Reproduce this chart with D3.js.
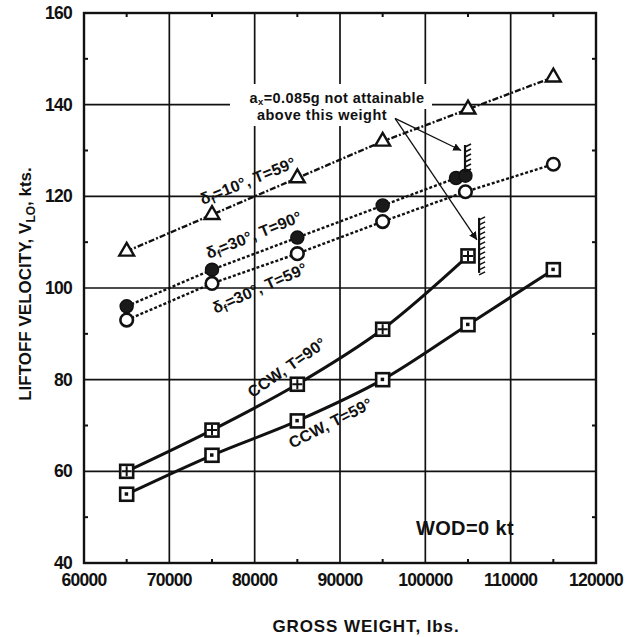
<!DOCTYPE html>
<html><head><meta charset="utf-8">
<script src="https://cdn.jsdelivr.net/npm/d3@7/dist/d3.min.js"></script>
<style>
body{margin:0;background:#fff;}
text{font-family:"Liberation Sans",Arial,Helvetica,sans-serif;font-weight:bold;fill:#111;}
</style></head>
<body><svg id="c" width="637" height="637"></svg>
<script>
// ---- data ----
const weights = [65000, 75000, 85000, 95000, 105000, 115000];
const flap10_T59 = [108, 116, 124, 132, 139, 146];
const flap30_T90_w = [65000, 75000, 85000, 95000, 103600, 104700];
const flap30_T90 = [96, 104, 111, 118, 124, 124.5];
const flap30_T59_w = [65000, 75000, 85000, 95000, 104700, 115000];
const flap30_T59 = [93, 101, 107.5, 114.5, 121, 127];
const ccw_T90_w = [65000, 75000, 85000, 95000, 105000];
const ccw_T90 = [60, 69, 79, 91, 107];
const ccw_T59 = [55, 63.5, 71, 80, 92, 104];
const xTicks = [60000, 70000, 80000, 90000, 100000, 110000, 120000];
const yTicks = [40, 60, 80, 100, 120, 140, 160];
// limit marks (weight, top value, bottom value)
const limit1 = [104650, 131.2, 125.3];
const limit2 = [106300, 115.3, 103.3];
const arrowFrom = [96450, 137];
const arrowTo1 = [104200, 130];
const arrowTo2 = [106050, 110.5];

const svg = d3.select("#c");
const x = d3.scaleLinear().domain([60000, 120000]).range([84, 596]);
const y = d3.scaleLinear().domain([40, 160]).range([563, 13]);

// grid
const g = svg.append("g");
g.selectAll("line.v").data(xTicks).join("line")
  .attr("x1", d => x(d)).attr("x2", d => x(d)).attr("y1", y(40)).attr("y2", y(160))
  .attr("stroke", "#111").attr("stroke-width", 1.7);
g.selectAll("line.h").data(yTicks).join("line")
  .attr("x1", x(60000)).attr("x2", x(120000)).attr("y1", d => y(d)).attr("y2", d => y(d))
  .attr("stroke", "#111").attr("stroke-width", 1.7);
svg.append("rect").attr("x", x(60000)).attr("y", y(160))
  .attr("width", x(120000) - x(60000)).attr("height", y(40) - y(160))
  .attr("fill", "none").attr("stroke", "#111").attr("stroke-width", 2.4);

// minor ticks
const minorX = d3.range(65000, 120000, 10000);
const minorY = d3.range(50, 160, 20);
svg.selectAll("line.mx").data(minorX).join("line")
  .attr("x1", d => x(d)).attr("x2", d => x(d)).attr("y1", y(40)).attr("y2", y(40) - 4)
  .attr("stroke", "#111").attr("stroke-width", 2);
svg.selectAll("line.mxt").data(minorX).join("line")
  .attr("x1", d => x(d)).attr("x2", d => x(d)).attr("y1", y(160)).attr("y2", y(160) + 4)
  .attr("stroke", "#111").attr("stroke-width", 2);
svg.selectAll("line.my").data(minorY).join("line")
  .attr("x1", x(60000)).attr("x2", x(60000) + 4).attr("y1", d => y(d)).attr("y2", d => y(d))
  .attr("stroke", "#111").attr("stroke-width", 2);
svg.selectAll("line.myr").data(minorY).join("line")
  .attr("x1", x(120000)).attr("x2", x(120000) - 4).attr("y1", d => y(d)).attr("y2", d => y(d))
  .attr("stroke", "#111").attr("stroke-width", 2);

// tick labels
svg.selectAll("text.xt").data(xTicks).join("text")
  .attr("x", d => x(d)).attr("y", 586).attr("text-anchor", "middle")
  .attr("font-size", 17.5).attr("letter-spacing", -0.7).text(d => d);
svg.selectAll("text.yt").data(yTicks).join("text")
  .attr("x", 72).attr("y", d => y(d) + 6).attr("text-anchor", "end")
  .attr("font-size", 17.5).attr("letter-spacing", -0.7).text(d => d);

// axis titles
svg.append("text").attr("x", 366).attr("y", 632).attr("text-anchor", "middle")
  .attr("font-size", 17).attr("letter-spacing", 0.9).text("GROSS WEIGHT, lbs.");
const yt = svg.append("text").attr("transform", "translate(31,284) rotate(-90)")
  .attr("text-anchor", "middle").attr("font-size", 17).attr("letter-spacing", 0);
yt.append("tspan").text("LIFTOFF VELOCITY, V");
yt.append("tspan").attr("font-size", 12).attr("dy", 4).text("LO");
yt.append("tspan").attr("dy", -4).text(", kts.");

// lines
const lineGen = d3.line().x(d => x(d[0])).y(d => y(d[1]));
const curveGen = d3.line().x(d => x(d[0])).y(d => y(d[1])).curve(d3.curveMonotoneX);
const zip = (a, b) => a.map((v, i) => [v, b[i]]);

svg.append("path").datum(zip(weights, flap10_T59)).attr("d", lineGen)
  .attr("fill", "none").attr("stroke", "#111").attr("stroke-width", 2.4).attr("stroke-dasharray", "6,2,2,2");
svg.append("path").datum(zip(flap30_T90_w, flap30_T90)).attr("d", lineGen)
  .attr("fill", "none").attr("stroke", "#111").attr("stroke-width", 2.4).attr("stroke-dasharray", "3,2");
svg.append("path").datum(zip(flap30_T59_w, flap30_T59)).attr("d", lineGen)
  .attr("fill", "none").attr("stroke", "#111").attr("stroke-width", 2.4).attr("stroke-dasharray", "3,2");
svg.append("path").datum(zip(ccw_T90_w, ccw_T90)).attr("d", curveGen)
  .attr("fill", "none").attr("stroke", "#111").attr("stroke-width", 3);
svg.append("path").datum(zip(weights, ccw_T59)).attr("d", curveGen)
  .attr("fill", "none").attr("stroke", "#111").attr("stroke-width", 3);

// white gap behind annotation text
svg.append("rect").attr("x", 230).attr("y", 84).attr("width", 202).attr("height", 25).attr("fill", "#fff");
svg.append("rect").attr("x", 236).attr("y", 108).attr("width", 160).attr("height", 18).attr("fill", "#fff");

// markers
svg.selectAll("path.tri").data(zip(weights, flap10_T59)).join("path")
  .attr("d", d3.symbol(d3.symbolTriangle, 95))
  .attr("transform", d => `translate(${x(d[0])},${y(d[1])})`)
  .attr("fill", "#fff").attr("stroke", "#111").attr("stroke-width", 2.4);
svg.selectAll("circle.fc").data(zip(flap30_T90_w, flap30_T90)).join("circle")
  .attr("cx", d => x(d[0])).attr("cy", d => y(d[1])).attr("r", 6.5)
  .attr("fill", "#1a1a1a").attr("stroke", "#111").attr("stroke-width", 1.5);
svg.selectAll("circle.oc").data(zip(flap30_T59_w, flap30_T59)).join("circle")
  .attr("cx", d => x(d[0])).attr("cy", d => y(d[1])).attr("r", 6.3)
  .attr("fill", "#fff").attr("stroke", "#111").attr("stroke-width", 2.6);
const sq = svg.selectAll("g.sq1").data(zip(ccw_T90_w, ccw_T90)).join("g")
  .attr("transform", d => `translate(${x(d[0])},${y(d[1])})`);
sq.append("rect").attr("x", -6.5).attr("y", -6.5).attr("width", 13).attr("height", 13)
  .attr("fill", "#fff").attr("stroke", "#111").attr("stroke-width", 2.6);
sq.append("path").attr("d", "M0,-5V5M-5,0H5").attr("stroke", "#111").attr("stroke-width", 2);
const sq2 = svg.selectAll("g.sq2").data(zip(weights, ccw_T59)).join("g")
  .attr("transform", d => `translate(${x(d[0])},${y(d[1])})`);
sq2.append("rect").attr("x", -6.5).attr("y", -6.5).attr("width", 13).attr("height", 13)
  .attr("fill", "#fff").attr("stroke", "#111").attr("stroke-width", 2.6);
sq2.append("rect").attr("x", -2).attr("y", -2).attr("width", 3.5).attr("height", 3.5).attr("fill", "#111");

// limit marks with hatching
function limitMark(L) {
  const lx = x(L[0]), y1 = y(L[1]), y2 = y(L[2]);
  svg.append("line").attr("x1", lx).attr("x2", lx).attr("y1", y1).attr("y2", y2)
    .attr("stroke", "#111").attr("stroke-width", 2.2);
  const n = Math.floor((y2 - y1) / 5);
  for (let i = 0; i <= n; i++) {
    const yy = y1 + i * 5 + 2;
    svg.append("line").attr("x1", lx).attr("x2", lx + 6).attr("y1", yy).attr("y2", yy - 3)
      .attr("stroke", "#111").attr("stroke-width", 1.6);
  }
}
limitMark(limit1);
limitMark(limit2);

// arrows
svg.append("defs").append("marker").attr("id", "ah").attr("viewBox", "0 0 10 10")
  .attr("refX", 10).attr("refY", 5).attr("markerWidth", 8).attr("markerHeight", 8)
  .attr("markerUnits", "userSpaceOnUse")
  .attr("orient", "auto").append("path").attr("d", "M0,0L10,5L0,10Z").attr("fill", "#111");
[arrowTo1, arrowTo2].forEach(t => {
  svg.append("line").attr("x1", x(arrowFrom[0])).attr("y1", y(arrowFrom[1]))
    .attr("x2", x(t[0])).attr("y2", y(t[1])).attr("stroke", "#111").attr("stroke-width", 1.3)
    .attr("marker-end", "url(#ah)");
});

// annotation text
const a1 = svg.append("text").attr("x", 337).attr("y", 103).attr("text-anchor", "middle")
  .attr("font-size", 14.5).attr("letter-spacing", 0.4);
a1.append("tspan").text("a");
a1.append("tspan").attr("font-size", 9.5).attr("dy", 2).text("x");
a1.append("tspan").attr("dy", -2).text("=0.085g not attainable");
svg.append("text").attr("x", 322).attr("y", 120).attr("text-anchor", "middle")
  .attr("font-size", 14.5).attr("letter-spacing", 0.5).text("above this weight");

// series labels
function seriesLabel(cx, cy, ang, parts, size) {
  const t = svg.append("text").attr("transform", `translate(${cx},${cy}) rotate(${ang})`)
    .attr("text-anchor", "middle").attr("font-size", size).attr("letter-spacing", 0.2);
  parts.forEach(p => { const s = t.append("tspan").text(p[0]); if (p[1]) s.attr("font-size", p[1]); if (p[2]) s.attr("dy", p[2]); });
}
seriesLabel(250, 186, -22, [["δ"], ["f", 11, 3], ["=10°, T=59°", null, -3]], 16);
seriesLabel(256, 240, -22, [["δ"], ["f", 11, 3], ["=30°, T=90°", null, -3]], 16);
seriesLabel(262, 293, -24, [["δ"], ["f", 11, 3], ["=30°, T=59°", null, -3]], 16);
seriesLabel(290, 372, -35, [["CCW, T=90°"]], 16);
seriesLabel(333, 428, -27, [["CCW, T=59°"]], 16);

// WOD label
svg.append("text").attr("x", 465).attr("y", 535).attr("text-anchor", "middle")
  .attr("font-size", 20).attr("letter-spacing", 0.4).text("WOD=0 kt");
</script></body></html>
